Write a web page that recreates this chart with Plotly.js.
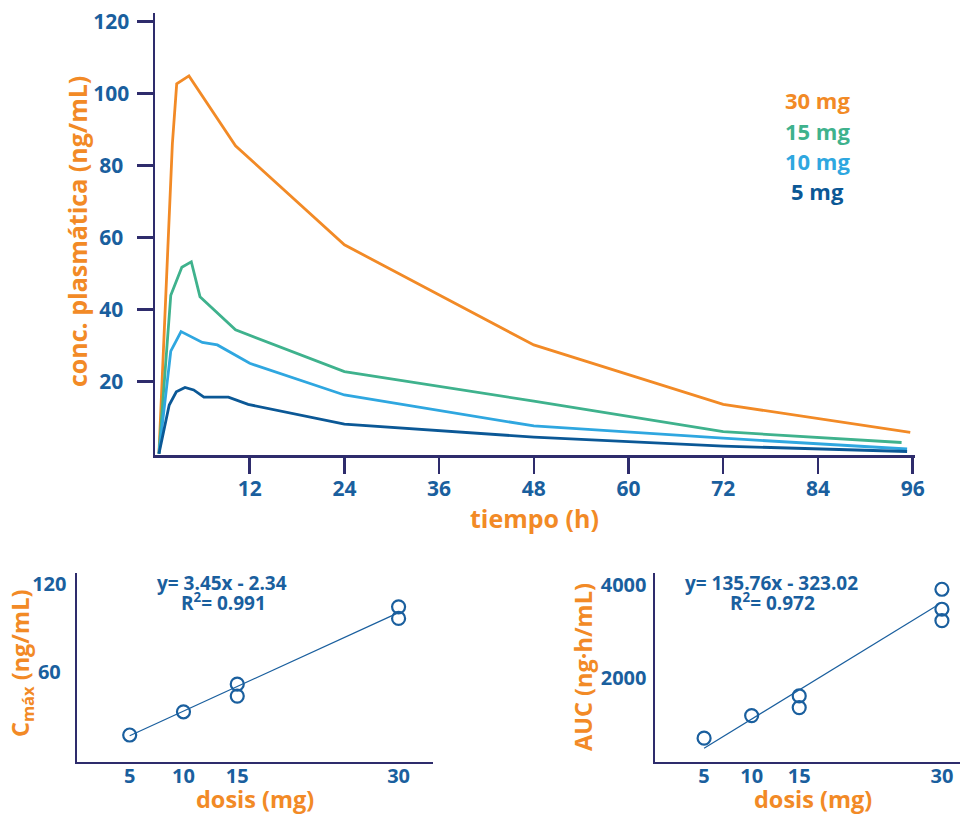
<!DOCTYPE html>
<html><head><meta charset="utf-8">
<script src="https://cdn.plot.ly/plotly-3.0.1.min.js"></script>
<style>html,body{margin:0;padding:0;background:#fff}#chart{width:960px;height:814px}</style>
</head><body><div id="chart"></div>
<script>
// ---- main chart data ----
const hourTicks = [12, 24, 36, 48, 60, 72, 84, 96];
const concTicks = [20, 40, 60, 80, 100, 120];
const doseLabels = ['30 mg', '15 mg', '10 mg', '5 mg'];

const time30 = [0.5, 2.2, 2.75, 4.3, 10.2, 24, 48, 72, 95.7];
const conc30 = [0, 86, 102.7, 104.9, 85.5, 58, 30.2, 13.7, 5.9];
const time15 = [0.5, 2.0, 3.4, 4.6, 5.7, 10.2, 24, 48, 72, 94.6];
const conc15 = [0, 44, 51.8, 53.3, 43.6, 34.4, 22.8, 14.6, 6.1, 3.1];
const time10 = [0.5, 2.0, 3.3, 6.0, 7.9, 12, 24, 48, 72, 95.3];
const conc10 = [0, 28.5, 33.9, 30.9, 30.2, 25.1, 16.3, 7.7, 4.3, 1.3];
const time5 = [0.5, 1.8, 2.7, 3.8, 4.9, 6.2, 9.3, 11.8, 24, 48, 72, 95.3];
const conc5 = [0, 13.5, 17.2, 18.4, 17.7, 15.7, 15.7, 13.7, 8.2, 4.6, 2.1, 0.6];

// ---- dose-proportionality data ----
const doseTicks = [5, 10, 15, 30];
const cmaxTicks = [60, 120];
const aucTicks = [2000, 4000];
const cmaxDose = [5, 10, 15, 15, 30, 30];
const cmaxValues = [17, 32.8, 51.6, 43.5, 104.2, 96.3];
const aucDose = [5, 10, 15, 15, 30, 30, 30];
const aucValues = [716, 1200, 1622, 1371, 3908, 3480, 3236];
const cmaxFitDose = [5, 29.8];
const cmaxFitValues = [16.5, 99.6];
const aucFitDose = [5, 29.4];
const aucFitValues = [501, 3550];
const cmaxEquation = ['y= 3.45x - 2.34', 'R<sup>2</sup>= 0.991'];
const aucEquation = ['y= 135.76x - 323.02', 'R<sup>2</sup>= 0.972'];

// ---- styling ----
const FONT = 'Open Sans, Lato, sans-serif';
const ORANGE = '#f28a26';
const GREEN = '#3fb28d';
const LIGHTBLUE = '#2fa7e0';
const DARKBLUE = '#0b5896';
const LABELBLUE = '#1a5f9e';
const AXIS = '#2e2c6c';
const seriesColors = [ORANGE, GREEN, LIGHTBLUE, DARKBLUE];

const W = 960, H = 814;
const px = x => x / W;
const py = y => 1 - y / H;

const pad2 = v => (String(v).length < 3 ? v + '\u2008' : String(v));

const series = [[time30, conc30], [time15, conc15], [time10, conc10], [time5, conc5]];
const traces = series.map((s, i) => ({
  x: s[0], y: s[1], type: 'scatter', mode: 'lines', name: doseLabels[i],
  line: {color: seriesColors[i], width: 2.8}, xaxis: 'x', yaxis: 'y', showlegend: false
}));

traces.push({x: cmaxFitDose, y: cmaxFitValues, type: 'scatter', mode: 'lines',
  line: {color: LABELBLUE, width: 1.2}, xaxis: 'x2', yaxis: 'y2', showlegend: false});
traces.push({x: cmaxDose, y: cmaxValues, type: 'scatter', mode: 'markers',
  marker: {symbol: 'circle-open', size: 13, color: LABELBLUE, line: {width: 2.2, color: LABELBLUE}},
  xaxis: 'x2', yaxis: 'y2', showlegend: false});
traces.push({x: aucFitDose, y: aucFitValues, type: 'scatter', mode: 'lines',
  line: {color: LABELBLUE, width: 1.2}, xaxis: 'x3', yaxis: 'y3', showlegend: false});
traces.push({x: aucDose, y: aucValues, type: 'scatter', mode: 'markers',
  marker: {symbol: 'circle-open', size: 13, color: LABELBLUE, line: {width: 2.2, color: LABELBLUE}},
  xaxis: 'x3', yaxis: 'y3', showlegend: false});

const tickFont = {family: FONT, size: 21, color: LABELBLUE, weight: 700};
const smallTickFont = {family: FONT, size: 20, color: LABELBLUE, weight: 700};

const baseAxis = {showgrid: false, zeroline: false, showline: true, linecolor: AXIS, linewidth: 2.5,
  fixedrange: true, automargin: false};

const layout = {
  width: W, height: H, margin: {l: 0, r: 0, t: 0, b: 0},
  paper_bgcolor: '#fff', plot_bgcolor: '#fff', showlegend: false,
  font: {family: FONT},
  xaxis: Object.assign({}, baseAxis, {domain: [px(155), px(915)], range: [0, 96.3], anchor: 'y',
    tickmode: 'array', tickvals: hourTicks, ticktext: hourTicks.map(String), ticks: 'outside', ticklen: 16, tickwidth: 2.5,
    tickcolor: AXIS, tickfont: tickFont, ticklabelstandoff: -3}),
  yaxis: Object.assign({}, baseAxis, {domain: [py(455.3), py(13.3)], range: [-0.45, 122.3], anchor: 'x',
    tickmode: 'array', tickvals: concTicks, ticktext: concTicks.map(pad2), ticks: 'outside', ticklen: 16, tickwidth: 2.5,
    tickcolor: AXIS, tickfont: tickFont, ticklabelstandoff: 3}),
  xaxis2: Object.assign({}, baseAxis, {domain: [px(77), px(433)], range: [0.1, 33.2], anchor: 'y2',
    tickmode: 'array', tickvals: doseTicks, ticktext: doseTicks.map(String), ticks: '', tickfont: smallTickFont,
    ticklabelstandoff: -5}),
  yaxis2: Object.assign({}, baseAxis, {domain: [py(761.7), py(573)], range: [-1.15, 127.2], anchor: 'x2',
    tickmode: 'array', tickvals: cmaxTicks, ticktext: cmaxTicks.map(pad2), ticks: '', tickfont: smallTickFont,
    ticklabelstandoff: 4}),
  xaxis3: Object.assign({}, baseAxis, {domain: [px(655), 1], range: [-0.16, 31.9], anchor: 'y3',
    tickmode: 'array', tickvals: doseTicks, ticktext: doseTicks.map(String), ticks: '', tickfont: smallTickFont,
    ticklabelstandoff: -5}),
  yaxis3: Object.assign({}, baseAxis, {domain: [py(761.7), py(573.3)], range: [212, 4250], anchor: 'x3',
    tickmode: 'array', tickvals: aucTicks, ticktext: aucTicks.map(String), ticks: '', tickfont: smallTickFont,
    ticklabelstandoff: 2}),
  annotations: []
};

function ann(text, x, y, opts) {
  return Object.assign({text: text, x: px(x), y: py(y), xref: 'paper', yref: 'paper',
    xanchor: 'center', yanchor: 'middle', showarrow: false}, opts);
}
const titleFont = {family: FONT, size: 25, color: ORANGE, weight: 700};
const smallTitleFont = {family: FONT, size: 23.5, color: ORANGE, weight: 700};

// legend labels
const legendY = [100, 131, 161, 191];
doseLabels.forEach((t, i) => layout.annotations.push(
  ann(t, 817, legendY[i], {font: {family: FONT, size: 22, color: seriesColors[i], weight: 700}})));

// axis titles
layout.annotations.push(ann('conc. plasmática (ng/mL)', 77, 232, {textangle: -90, font: titleFont}));
layout.annotations.push(ann('tiempo (h)', 534, 518, {font: titleFont}));
layout.annotations.push(ann('C<sub>máx</sub> (ng/mL)', 21, 664, {textangle: -90, font: smallTitleFont}));
layout.annotations.push(ann('dosis (mg)', 255, 799, {font: smallTitleFont}));
layout.annotations.push(ann('AUC (ng·h/mL)', 583, 667, {textangle: -90, font: smallTitleFont}));
layout.annotations.push(ann('dosis (mg)', 813, 799, {font: smallTitleFont}));

// equations
const eqFont = {family: FONT, size: 19, color: LABELBLUE, weight: 700};
layout.annotations.push(ann(cmaxEquation[0], 222, 583, {font: eqFont}));
layout.annotations.push(ann(cmaxEquation[1], 223, 602, {font: eqFont}));
layout.annotations.push(ann(aucEquation[0], 771, 583, {font: eqFont}));
layout.annotations.push(ann(aucEquation[1], 772, 602, {font: eqFont}));

Plotly.newPlot('chart', traces, layout, {displayModeBar: false, staticPlot: true});
</script>
</body></html>
